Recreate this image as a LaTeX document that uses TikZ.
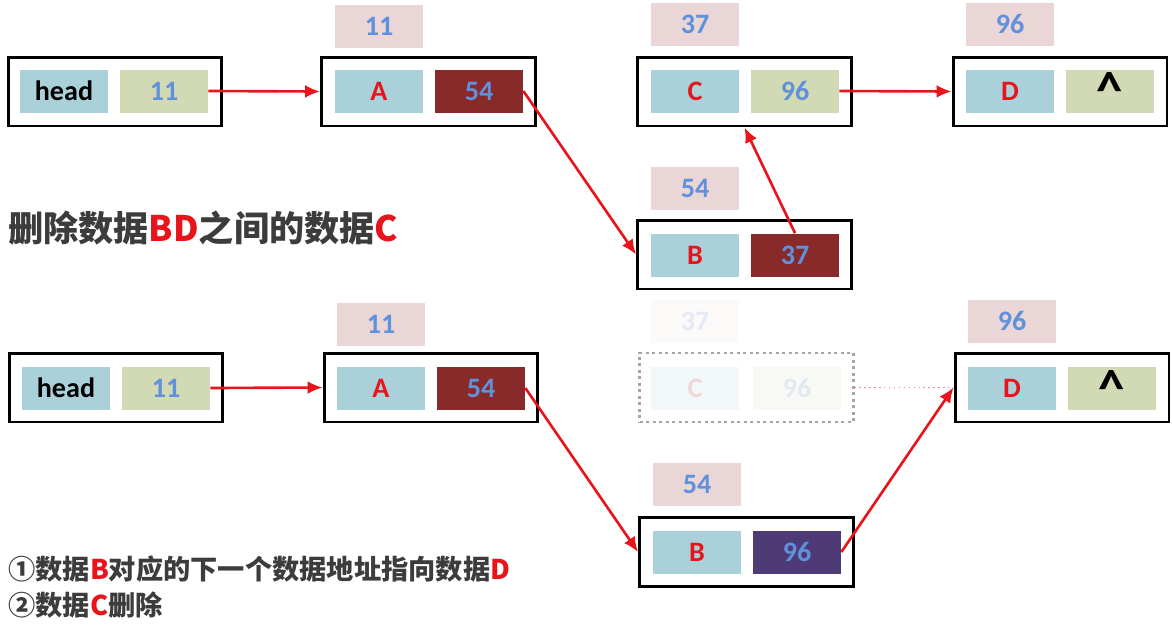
\documentclass[tikz,border=0pt]{standalone}
\usepackage{fontspec}
\setmainfont{Carlito}
\newfontfamily\cjk{Noto Sans CJK SC}
\usetikzlibrary{arrows.meta}
\definecolor{boxblue}{RGB}{170,208,218}
\definecolor{boxgreen}{RGB}{209,218,180}
\definecolor{addrpink}{RGB}{234,214,214}
\definecolor{ptrred}{RGB}{137,42,42}
\definecolor{ptrpurple}{RGB}{78,58,118}
\definecolor{numblue}{RGB}{95,145,220}
\definecolor{letred}{RGB}{232,20,27}
\definecolor{textgrey}{RGB}{60,60,60}
\tikzset{
  nbox/.style={draw=black,line width=1.7pt,minimum width=4.28cm,minimum height=1.38cm,inner sep=0pt},
  cellbox/.style={minimum width=1.76cm,minimum height=0.86cm,inner sep=0pt,font=\fontsize{16}{18}\selectfont\bfseries},
  datae/.style={cellbox,fill=boxblue,text=letred},
  heade/.style={cellbox,fill=boxblue,text=black},
  ptre/.style={cellbox,fill=boxgreen,text=numblue},
  nulle/.style={cellbox,fill=boxgreen,text=black,font=\fontsize{30}{30}\selectfont\bfseries},
  darke/.style={cellbox,fill=ptrred,text=numblue},
  purplee/.style={cellbox,fill=ptrpurple,text=numblue},
  addre/.style={cellbox,fill=addrpink,text=numblue},
  flow/.style={-{Latex[length=3mm,width=2.6mm]},line width=1.5pt,draw=letred},
  lab/.style={anchor=base west,inner sep=0pt,text=textgrey,font=\cjk\bfseries\fontsize{15.5}{18}\selectfont},
  gone/.style={opacity=0.15}
}
\newcommand\nullptr{\raisebox{-0.42em}{\textasciicircum}}

\begin{document}
\begin{tikzpicture}[x=0.02cm,y=-0.02cm]
  \useasboundingbox (0,0) rectangle (1172,626);
  % before: head -> A -> B -> C -> D
  \node[nbox] (h1F) at (115,91.5) {};
  \node[heade] (h1L) at (64,91) {head};
  \node[ptre] (h1R) at (164,91) {11};
  \node[nbox] (a1F) at (428.5,91.5) {};
  \node[datae] (a1L) at (379,91) {A};
  \node[darke] (a1R) at (479,91) {54};
  \node[addre] (a1A) at (379,26) {11};
  \node[nbox] (c1F) at (744.5,91.5) {};
  \node[datae] (c1L) at (695,91) {C};
  \node[ptre] (c1R) at (795,91) {96};
  \node[addre] (c1A) at (695,24) {37};
  \node[nbox] (d1F) at (1060,91.5) {};
  \node[datae] (d1L) at (1010,91) {D};
  \node[nulle] (d1R) at (1110,91) {\nullptr};
  \node[addre] (d1A) at (1010,24) {96};
  \node[nbox] (b1F) at (744.5,254.5) {};
  \node[datae] (b1L) at (695,255) {B};
  \node[darke] (b1R) at (795,255) {37};
  \node[addre] (b1A) at (695,188) {54};
  \draw[flow] (h1R.east) -- (a1F.west);
  \draw[flow] (a1R.east) -- (b1F.west);
  \draw[flow] (b1R.north) -- (c1F.south);
  \draw[flow] (c1R.east) -- (d1F.west);
  \node[lab,font=\cjk\bfseries\fontsize{20}{24}\selectfont] (title) at (8,241)
    {删除数据\textcolor{letred}{BD}之间的数据\textcolor{letred}{C}};
  % after: B now points at D, C fades out
  \node[nbox] (h2F) at (116,387.5) {};
  \node[heade] (h2L) at (66,388) {head};
  \node[ptre] (h2R) at (166,388) {11};
  \node[nbox] (a2F) at (431,387.5) {};
  \node[datae] (a2L) at (381,388) {A};
  \node[darke] (a2R) at (481,388) {54};
  \node[addre] (a2A) at (381,324) {11};
  \node[nbox,opacity=0.35,dotted,line width=1.2pt] (c2F) at (746.5,387.5) {};
  \node[datae,gone] (c2L) at (695,388) {C};
  \node[ptre,gone] (c2R) at (797,388) {96};
  \node[addre,gone] (c2A) at (695,321) {37};
  \node[nbox] (d2F) at (1062,387.5) {};
  \node[datae] (d2L) at (1012,388) {D};
  \node[nulle] (d2R) at (1112,388) {\nullptr};
  \node[addre] (d2A) at (1012,321) {96};
  \node[nbox] (b2F) at (746.5,552) {};
  \node[datae] (b2L) at (697,552) {B};
  \node[purplee] (b2R) at (797,552) {96};
  \node[addre] (b2A) at (697,484) {54};
  \draw[flow] (h2R.east) -- (a2F.west);
  \draw[flow] (a2R.east) -- (b2F.west);
  \draw[flow] (b2R.east) -- (d2F.west);
  \draw[draw=letred,dotted,line width=0.8pt,opacity=0.5] (c2F.east) -- (d2F.west);
  \node[lab] (step1) at (8,579)
    {①数据\textcolor{letred}{B}对应的下一个数据地址指向数据\textcolor{letred}{D}};
  \node[lab] (step2) at (8,615) {②数据\textcolor{letred}{C}删除};
\end{tikzpicture}
\end{document}
